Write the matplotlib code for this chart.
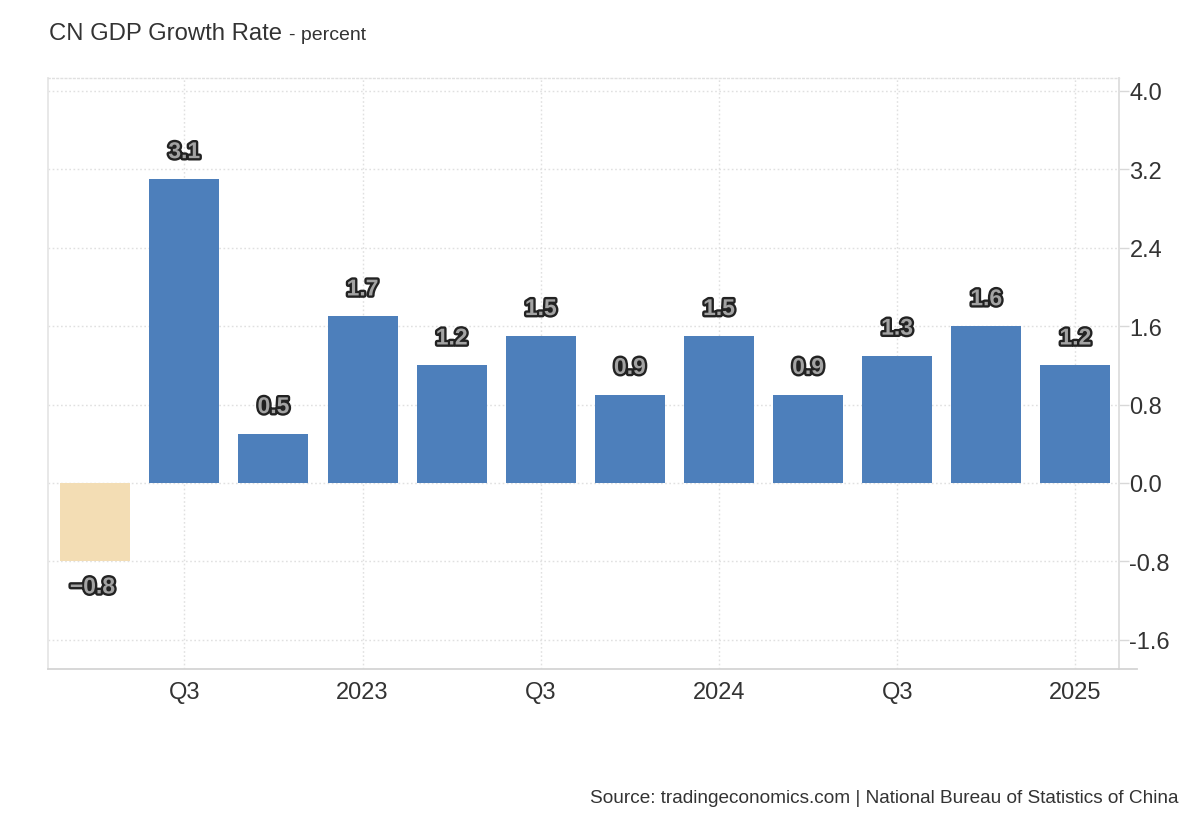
import matplotlib
matplotlib.use("Agg")
import matplotlib.pyplot as plt
import matplotlib.patheffects as pe
from matplotlib.lines import Line2D

# ---- data ----
quarters = ["2022 Q2", "2022 Q3", "2022 Q4", "2023 Q1", "2023 Q2", "2023 Q3",
            "2023 Q4", "2024 Q1", "2024 Q2", "2024 Q3", "2024 Q4", "2025 Q1"]
values = [-0.8, 3.1, 0.5, 1.7, 1.2, 1.5, 0.9, 1.5, 0.9, 1.3, 1.6, 1.2]
tick_quarters = ["2022 Q3", "2023 Q1", "2023 Q3", "2024 Q1", "2024 Q3", "2025 Q1"]
tick_labels = ["Q3", "2023", "Q3", "2024", "Q3", "2025"]
y_ticks = [-1.6, -0.8, 0.0, 0.8, 1.6, 2.4, 3.2, 4.0]

plt.rcParams["font.family"] = ["Liberation Sans", "DejaVu Sans"]

fig = plt.figure(figsize=(12, 8.2), dpi=100)
ax = fig.add_axes([0.04, 0.183, 0.8925, 0.7207])

pos_color = "#4d7fbb"
neg_color = "#f3ddb4"
x = list(range(len(quarters)))
colors = [pos_color if v >= 0 else neg_color for v in values]
ax.bar(x, values, width=0.785, color=colors, zorder=2)

ax.set_xlim(-0.53, 11.49)
ax.set_ylim(-1.896, 4.13)

# grid
ax.set_yticks(y_ticks)
ax.set_yticklabels([f"{t:.1f}" for t in y_ticks])
xt = [quarters.index(q) for q in tick_quarters]
ax.set_xticks(xt)
ax.set_xticklabels(tick_labels)
ax.grid(True, color="#e0e0e0", linestyle=(0, (1.2, 1.8)), linewidth=1.0, zorder=0)
ax.set_axisbelow(True)

ax.yaxis.tick_right()
ax.tick_params(axis="y", length=7, width=1, color="#d8d8d8", pad=0.5,
               labelsize=17, labelcolor="#333333")
ax.tick_params(axis="x", length=0, pad=9, labelsize=17, labelcolor="#333333")

for s in ["left", "right", "bottom"]:
    ax.spines[s].set_color("#dddddd")
    ax.spines[s].set_linewidth(1.3)
ax.spines["left"].set_color("#e6e6e6")
ax.spines["bottom"].set_color("#d4d4d4")
ax.spines["top"].set_color("#e0e0e0")
ax.spines["top"].set_linestyle((0, (1.2, 1.8)))
ax.spines["top"].set_linewidth(1.0)

# extend bottom axis line to the right
ax.add_line(Line2D([1.0, 1.017], [0, 0], transform=ax.transAxes,
                   color="#d4d4d4", linewidth=1.3, clip_on=False))

# value labels
effects = [pe.withStroke(linewidth=3.4, foreground="#222222")]
for xi, v in zip(x, values):
    if v >= 0:
        ax.annotate(f"{v:.1f}", (xi, v), xytext=(0, 15), textcoords="offset points",
                    ha="center", va="baseline", fontsize=16.5, fontweight="bold",
                    color="#a3a3a3", path_effects=effects, zorder=3)
    else:
        ax.annotate(f"{v:.1f}".replace("-", "\u2212"), (xi, v), xytext=(-2, -23),
                    textcoords="offset points", ha="center", va="baseline",
                    fontsize=16.5, fontweight="bold", color="#a3a3a3",
                    path_effects=effects, zorder=3)

# title and source
fig.text(49 / 1200, 1 - 40 / 820, "CN GDP Growth Rate", fontsize=17.2,
         color="#333333", ha="left", va="baseline")
fig.text(289 / 1200, 1 - 40 / 820, "- percent", fontsize=14, color="#333333",
         ha="left", va="baseline")
fig.text(1178 / 1200, 1 - 803 / 820,
         "Source: tradingeconomics.com | National Bureau of Statistics of China",
         fontsize=13.7, color="#333333", ha="right", va="baseline")

fig.savefig("out.png", dpi=100, facecolor="white")
